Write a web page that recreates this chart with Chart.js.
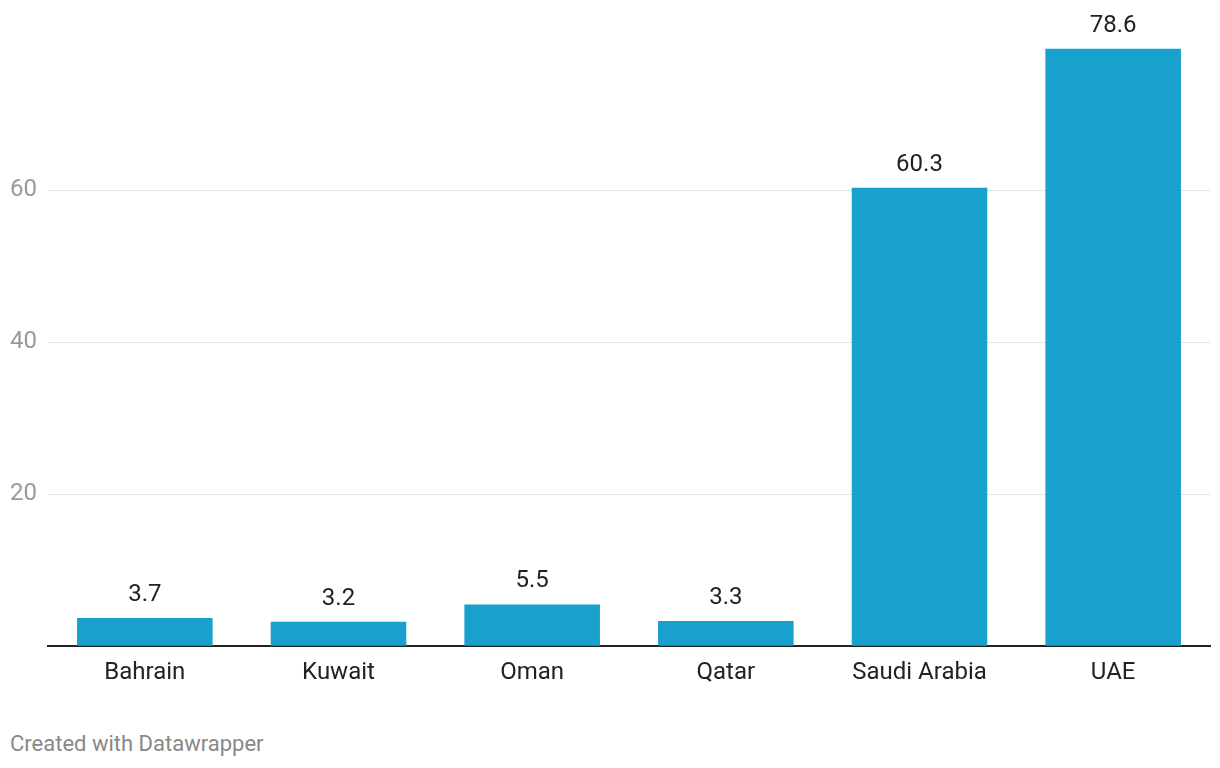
<!DOCTYPE html>
<html lang="en">
<head>
    <meta charset="UTF-8">
    <title>Bar chart</title>
    <script src="https://cdn.jsdelivr.net/npm/chart.js"></script>
    <style>
        body {
            margin: 0;
            background: #fff;
            font-family: Roboto, sans-serif;
        }
        .chart-container {
            position: relative;
            width: 1220px;
            height: 700px;
        }
        .footer {
            position: absolute;
            left: 10px;
            top: 731px;
            font-size: 22px;
            color: #888;
        }
    </style>
</head>
<body>
    <div class="chart-container">
        <canvas id="barChart"></canvas>
    </div>
    <div class="footer">Created with Datawrapper</div>

    <script>
        // Chart data
        const countries = ['Bahrain', 'Kuwait', 'Oman', 'Qatar', 'Saudi Arabia', 'UAE'];
        const values = [3.7, 3.2, 5.5, 3.3, 60.3, 78.6];
        const yTicks = [20, 40, 60];

        // Draws the value above each bar
        const valueLabels = {
            id: 'valueLabels',
            afterDatasetsDraw(chart) {
                const ctx = chart.ctx;
                const meta = chart.getDatasetMeta(0);
                ctx.save();
                ctx.font = '24px Roboto';
                ctx.fillStyle = '#222';
                ctx.textAlign = 'center';
                ctx.textBaseline = 'bottom';
                meta.data.forEach((bar, i) => {
                    ctx.fillText(values[i].toFixed(1), bar.x, bar.y - 11);
                });
                ctx.restore();
            }
        };

        new Chart(document.getElementById('barChart').getContext('2d'), {
            type: 'bar',
            data: {
                labels: countries,
                datasets: [{
                    data: values,
                    backgroundColor: '#18a1cd',
                    categoryPercentage: 0.7,
                    barPercentage: 1.0
                }]
            },
            options: {
                responsive: true,
                maintainAspectRatio: false,
                animation: false,
                layout: {
                    padding: { top: 38, right: 10, left: 10, bottom: 9 }
                },
                plugins: {
                    legend: { display: false },
                    tooltip: { enabled: false }
                },
                scales: {
                    x: {
                        grid: { display: false },
                        border: { display: true, color: '#222', width: 2 },
                        ticks: {
                            color: '#222',
                            font: { family: 'Roboto', size: 24 },
                            padding: 4
                        }
                    },
                    y: {
                        min: 0,
                        max: 80,
                        afterFit: function(scale) {
                            scale.width = 38;
                        },
                        afterBuildTicks: function(scale) {
                            scale.ticks = [0].concat(yTicks, [80]).map(v => ({ value: v }));
                        },
                        border: { display: false },
                        grid: {
                            drawTicks: false,
                            color: function(ctx) {
                                return yTicks.includes(ctx.tick.value) ? '#e3e3e3' : 'rgba(0,0,0,0)';
                            }
                        },
                        ticks: {
                            color: '#999',
                            crossAlign: 'far',
                            padding: 0,
                            font: { family: 'Roboto', size: 24 },
                            callback: function(value) {
                                return yTicks.includes(value) ? value : '';
                            }
                        }
                    }
                }
            },
            plugins: [valueLabels]
        });
    </script>
</body>
</html>
